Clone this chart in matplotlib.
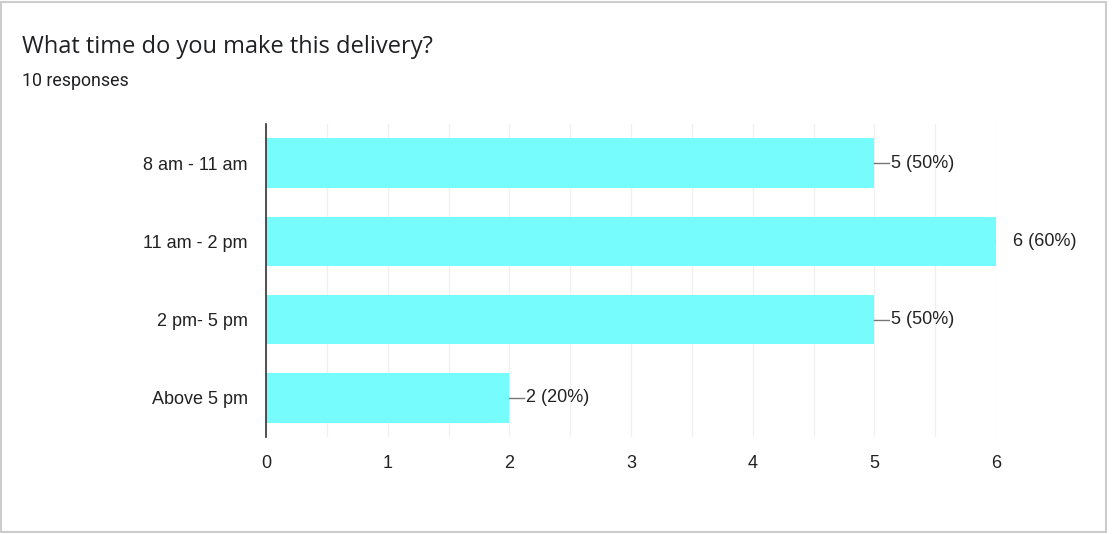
import matplotlib.pyplot as plt
from matplotlib.patches import Rectangle

title = "What time do you make this delivery?"
subtitle = "10 responses"
categories = ["8 am - 11 am", "11 am - 2 pm", "2 pm- 5 pm", "Above 5 pm"]
counts = [5, 6, 5, 2]
total = 10

fig = plt.figure(figsize=(11.12, 5.34), dpi=100)
fig.patch.set_facecolor("white")
fig.patches.append(Rectangle((0.001, 0.003), 0.994, 0.994, transform=fig.transFigure,
                             fill=False, edgecolor="#cccccc", linewidth=1.5))

fig.text(22 / 1112, 1 - 47 / 534, title, fontsize=17, family="Open Sans",
         color="#202124", va="center")
fig.text(22 / 1112, 1 - 81 / 534, subtitle, fontsize=12.8, family="Roboto",
         color="#202124", va="center")

ax = fig.add_axes([266 / 1112, 1 - 437 / 534, 730 / 1112, 313 / 534])
y = list(range(len(categories)))
ax.barh(y, counts, height=0.63, color="#77fcfd", zorder=2)
ax.set_ylim(3.5, -0.5)
ax.set_xlim(0, 6)
ax.set_xticks(range(0, 7))
ax.set_xticks([i + 0.5 for i in range(6)], minor=True)
ax.set_yticks(y)
ax.set_yticklabels(categories)
ax.grid(True, axis="x", which="both", color="#f0f0f0", linewidth=1, zorder=0)
for s in ["top", "right", "bottom"]:
    ax.spines[s].set_visible(False)
ax.spines["left"].set_color("#333333")
ax.spines["left"].set_linewidth(1.2)
ax.spines["left"].set_zorder(3)
ax.tick_params(axis="both", which="both", length=0, labelsize=13, colors="#222222")
ax.tick_params(axis="y", pad=13)
ax.tick_params(axis="x", pad=13)
for lab in ax.get_xticklabels() + ax.get_yticklabels():
    lab.set_family("Liberation Sans")

for yi, c in zip(y, counts):
    ax.plot([c, c + 0.12], [yi, yi], color="#777777", linewidth=1, zorder=3)
    ax.text(c + 0.14, yi, f"{c} ({c * 100 // total}%)", va="center", ha="left",
            fontsize=13, family="Liberation Sans", color="#222222", clip_on=False)

fig.savefig("out.png", dpi=100)
